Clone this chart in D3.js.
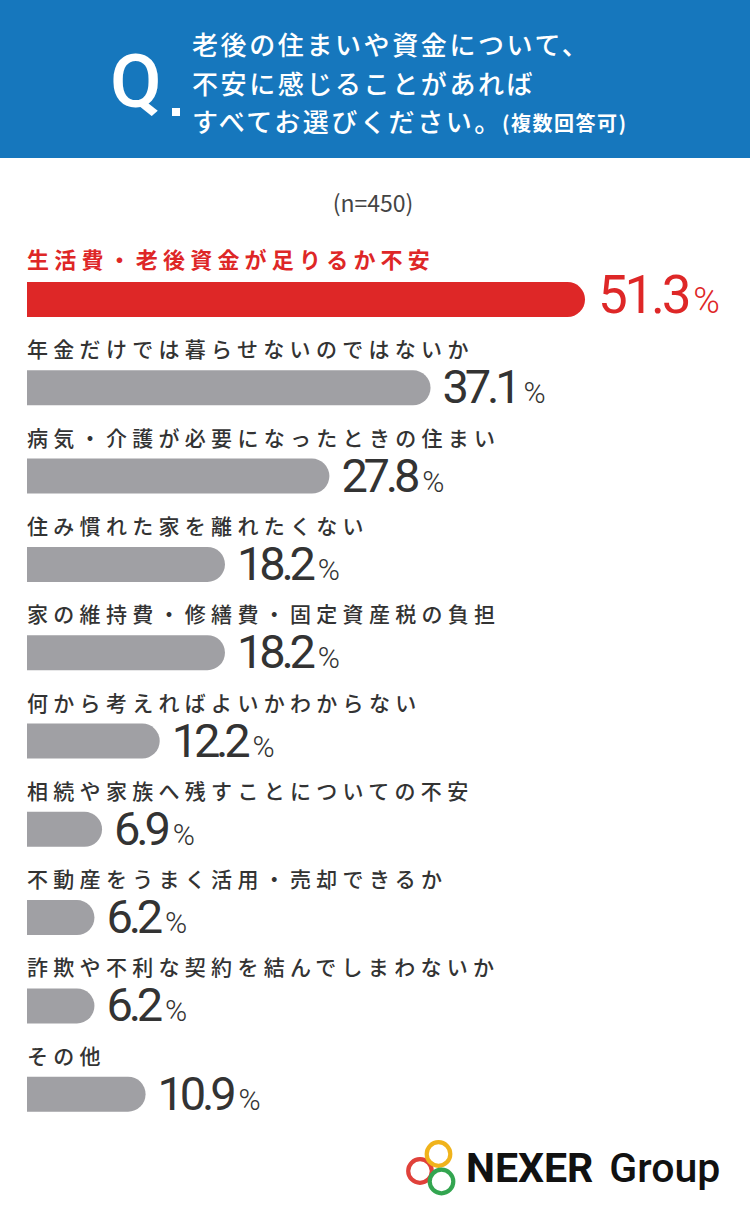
<!DOCTYPE html>
<html>
<head>
<meta charset="utf-8">
<script src="https://cdn.jsdelivr.net/npm/d3@7"></script>
<style>
  html, body { margin: 0; padding: 0; background: #fff; }
  svg { display: block; }
</style>
</head>
<body>
<div class="chart"></div>
<script>
// data
const categories = [
  "生活費・老後資金が足りるか不安",
  "年金だけでは暮らせないのではないか",
  "病気・介護が必要になったときの住まい",
  "住み慣れた家を離れたくない",
  "家の維持費・修繕費・固定資産税の負担",
  "何から考えればよいかわからない",
  "相続や家族へ残すことについての不安",
  "不動産をうまく活用・売却できるか",
  "詐欺や不利な契約を結んでしまわないか",
  "その他"
];
const values = [51.3, 37.1, 27.8, 18.2, 18.2, 12.2, 6.9, 6.2, 6.2, 10.9];
const questionLines = ["老後の住まいや資金について、", "不安に感じることがあれば", "すべてお選びください。"];
const questionNote = "(複数回答可)";
const sampleNote = "(n=450)";

const width = 750;
const height = 1220;
const left = 27;
const barH = 35;
const jp = "'Noto Sans CJK JP', 'Noto Sans', sans-serif";
const num = "Roboto, 'Open Sans', sans-serif";

const svg = d3.select(".chart")
    .append("svg")
    .attr("width", width)
    .attr("height", height);

// header band
svg.append("rect")
    .attr("width", width)
    .attr("height", 158)
    .attr("fill", "#1677bd");

svg.append("text")
    .attr("x", 110)
    .attr("y", 107)
    .attr("font-family", num)
    .attr("font-weight", 500)
    .attr("font-size", 75)
    .attr("fill", "#fff")
    .text("Q");

svg.append("rect")
    .attr("x", 172)
    .attr("y", 108)
    .attr("width", 8)
    .attr("height", 8)
    .attr("fill", "#fff");

svg.selectAll(".qline")
    .data(questionLines)
    .enter()
    .append("text")
    .attr("class", "qline")
    .attr("x", 192)
    .attr("y", (d, i) => 55 + i * 38.5)
    .attr("font-family", jp)
    .attr("font-weight", 500)
    .attr("font-size", 26)
    .attr("letter-spacing", 2.6)
    .attr("fill", "#fff")
    .text(d => d);

svg.append("text")
    .attr("x", 502)
    .attr("y", 131)
    .attr("font-family", jp)
    .attr("font-weight", 700)
    .attr("font-size", 20)
    .attr("letter-spacing", 1.5)
    .attr("fill", "#fff")
    .text(questionNote);

svg.append("text")
    .attr("x", 373)
    .attr("y", 212)
    .attr("text-anchor", "middle")
    .attr("font-family", jp)
    .attr("font-size", 23)
    .attr("fill", "#444")
    .text(sampleNote);

// scales
const x = d3.scaleLinear()
    .domain([0, d3.max(values)])
    .range([0, 558]);

const y = d3.scaleBand()
    .domain(categories)
    .range([240, 240 + categories.length * 88.3])
    .paddingInner(0);

const rows = svg.append("g")
    .selectAll(".row")
    .data(categories.map((c, i) => ({ name: c, value: values[i], first: i === 0 })))
    .enter()
    .append("g")
    .attr("class", "row")
    .attr("transform", d => `translate(0, ${y(d.name)})`);

// bar with flat left end and round right end
function barPath(w) {
  const r = barH / 2;
  const top = 42;
  return `M${left},${top} H${left + w - r} A${r},${r} 0 0 1 ${left + w - r},${top + barH} H${left} Z`;
}

rows.append("path")
    .attr("d", d => barPath(x(d.value)))
    .attr("fill", d => d.first ? "#de2727" : "#a0a0a4");

rows.append("text")
    .attr("x", left)
    .attr("y", d => d.first ? 28 : 29)
    .attr("font-family", jp)
    .attr("font-weight", d => d.first ? 700 : 500)
    .attr("font-size", d => d.first ? 22 : 21)
    .attr("letter-spacing", d => d.first ? 5.2 : 5.3)
    .attr("fill", d => d.first ? "#de2727" : "#333")
    .text(d => d.name);

const lab = rows.append("text")
    .attr("x", d => left + x(d.value) + (d.first ? 13 : 12))
    .attr("y", d => d.first ? 73 : 75)
    .attr("font-family", num)
    .attr("font-weight", 400)
    .attr("fill", d => d.first ? "#de2727" : "#333");

lab.append("tspan")
    .attr("font-size", d => d.first ? 53 : 47)
    .attr("letter-spacing", d => d.first ? -3.3 : -4.2)
    .text(d => d3.format(".1f")(d.value));

lab.append("tspan")
    .attr("font-size", d => d.first ? 36 : 30)
    .attr("font-weight", 300)
    .attr("dx", d => d.first ? 5 : 6)
    .text("%");

// logo
const rings = [
  { cx: 420, cy: 1171, c: "#e0413a" },
  { cx: 438.5, cy: 1154, c: "#f0b31b" },
  { cx: 441.5, cy: 1181.5, c: "#33a550" }
];

svg.append("g")
    .selectAll("circle")
    .data(rings)
    .enter()
    .append("circle")
    .attr("cx", d => d.cx)
    .attr("cy", d => d.cy)
    .attr("r", 11.8)
    .attr("fill", "none")
    .attr("stroke", d => d.c)
    .attr("stroke-width", 4.2);

const logo = svg.append("text")
    .attr("x", 466)
    .attr("y", 1182)
    .attr("font-family", num)
    .attr("font-size", 41)
    .attr("fill", "#111");

logo.append("tspan")
    .attr("font-weight", 700)
    .text("NEXER");

logo.append("tspan")
    .attr("font-weight", 500)
    .attr("dx", 16)
    .text("Group");
</script>
</body>
</html>
